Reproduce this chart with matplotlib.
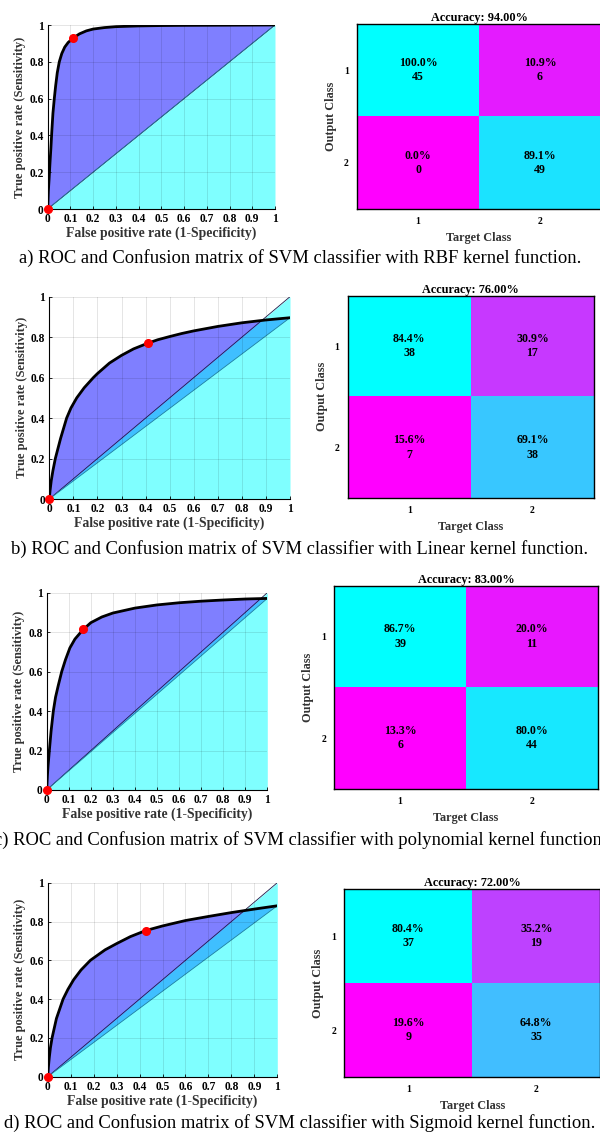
import numpy as np
import matplotlib
matplotlib.use('Agg')
import matplotlib.pyplot as plt

plt.rcParams['font.family'] = ['Liberation Serif', 'DejaVu Serif']
plt.rcParams['font.weight'] = 'bold'

W, H = 600, 1137

# ROC curves (false positive rate, true positive rate)
fpr_rbf = [0, 0.003, 0.006, 0.01, 0.014, 0.018, 0.023, 0.029, 0.035, 0.042, 0.051, 0.062, 0.075,
           0.09, 0.113, 0.14, 0.17, 0.2, 0.25, 0.3, 0.4, 0.5, 0.6, 0.8, 1.0]
tpr_rbf = [0, 0.1, 0.16, 0.25, 0.33, 0.42, 0.52, 0.6, 0.67, 0.74, 0.8, 0.845, 0.88,
           0.905, 0.93, 0.952, 0.968, 0.978, 0.986, 0.991, 0.995, 0.997, 0.998, 0.999, 1.0]

fpr_lin = [0, 0.003, 0.008, 0.015, 0.025, 0.047, 0.072, 0.09, 0.114, 0.145, 0.183, 0.2, 0.25,
           0.3, 0.35, 0.409, 0.45, 0.5, 0.55, 0.6, 0.7, 0.8, 0.9, 1.0]
tpr_lin = [0, 0.04, 0.09, 0.14, 0.2, 0.3, 0.4, 0.45, 0.5, 0.55, 0.6, 0.62, 0.672,
           0.71, 0.742, 0.77, 0.787, 0.803, 0.818, 0.831, 0.853, 0.871, 0.885, 0.896]

fpr_poly = [0, 0.003, 0.006, 0.012, 0.02, 0.03, 0.04, 0.052, 0.068, 0.085, 0.105, 0.128, 0.151,
            0.166, 0.2, 0.25, 0.3, 0.4, 0.5, 0.6, 0.7, 0.8, 0.9, 1.0]
tpr_poly = [0, 0.07, 0.12, 0.2, 0.3, 0.4, 0.47, 0.528, 0.6, 0.66, 0.72, 0.765, 0.795,
            0.814, 0.848, 0.877, 0.897, 0.922, 0.938, 0.949, 0.957, 0.963, 0.968, 0.971]

fpr_sig = [0, 0.003, 0.007, 0.012, 0.019, 0.038, 0.067, 0.088, 0.113, 0.145, 0.186, 0.2, 0.25,
           0.3, 0.36, 0.426, 0.5, 0.6, 0.7, 0.8, 0.9, 1.0]
tpr_sig = [0, 0.05, 0.1, 0.15, 0.2, 0.3, 0.4, 0.45, 0.5, 0.55, 0.6, 0.612, 0.654,
           0.686, 0.722, 0.753, 0.777, 0.805, 0.826, 0.846, 0.864, 0.881]

# operating points (red dots)
op_fpr = [0.113, 0.409, 0.166, 0.426]
op_tpr = [0.93, 0.77, 0.814, 0.753]

chance = [0, 1]

# confusion matrices: counts and column percentages
counts_rbf = [[45, 6], [0, 49]]
pct_rbf = [[100.0, 10.9], [0.0, 89.1]]
counts_lin = [[38, 17], [7, 38]]
pct_lin = [[84.4, 30.9], [15.6, 69.1]]
counts_poly = [[39, 11], [6, 44]]
pct_poly = [[86.7, 20.0], [13.3, 80.0]]
counts_sig = [[37, 19], [9, 35]]
pct_sig = [[80.4, 35.2], [19.6, 64.8]]
accuracy = [94.00, 76.00, 83.00, 72.00]

class_labels = ['1', '2']
x_ticks = [0, 0.1, 0.2, 0.3, 0.4, 0.5, 0.6, 0.7, 0.8, 0.9, 1]
y_ticks = [0, 0.2, 0.4, 0.6, 0.8, 1]

captions = [
    'a) ROC and Confusion matrix of SVM classifier with RBF kernel function.',
    'b) ROC and Confusion matrix of SVM classifier with Linear kernel function.',
    'c) ROC and Confusion matrix of SVM classifier with polynomial kernel function.',
    'd) ROC and Confusion matrix of SVM classifier with Sigmoid kernel function.',
]

# pixel boxes (left, right, top, bottom)
roc_boxes = [(47.7, 275, 25, 209), (49.3, 290, 296.7, 499),
             (46.7, 267.3, 592.7, 790), (47.7, 277.3, 882.7, 1076.7)]
cm_boxes = [(357, 601, 24, 209), (347.7, 594, 295.7, 498),
            (334.3, 597.7, 585.7, 789), (344.3, 600.3, 889, 1077)]
caption_y = [258, 549, 840, 1123]

rocs = [(fpr_rbf, tpr_rbf), (fpr_lin, tpr_lin), (fpr_poly, tpr_poly), (fpr_sig, tpr_sig)]
cms = [(counts_rbf, pct_rbf), (counts_lin, pct_lin), (counts_poly, pct_poly), (counts_sig, pct_sig)]


def box(b):
    l, r, t, bt = b
    return [l / W, 1 - bt / H, (r - l) / W, (bt - t) / H]


fig = plt.figure(figsize=(W / 100, H / 100), dpi=100)

for i in range(4):
    fpr, tpr = rocs[i]
    ax = fig.add_axes(box(roc_boxes[i]))
    # area between curve and chord, then chance area on top
    ax.fill(fpr, tpr, color=(0, 0, 1), alpha=0.5, lw=0)
    ax.fill_between(chance, chance, 0, color=(0, 1, 1), alpha=0.5, lw=0)
    ax.plot(chance, chance, color='#1a1a4a', lw=0.6)
    ax.plot([fpr[0], fpr[-1]], [tpr[0], tpr[-1]], color='#1f7fa0', lw=0.6)
    ax.plot(fpr, tpr, color='black', lw=2, solid_joinstyle='round')
    ax.plot([0, op_fpr[i]], [0, op_tpr[i]], 'o', color='red', ms=5.5, clip_on=False, zorder=5)
    ax.set_xlim(0, 1)
    ax.set_ylim(0, 1)
    ax.set_xticks(x_ticks)
    ax.set_yticks(y_ticks)
    ax.set_xticklabels(['%g' % v for v in x_ticks])
    ax.set_yticklabels(['%g' % v for v in y_ticks])
    ax.grid(True, color='black', alpha=0.12, lw=0.6)
    ax.set_axisbelow(False)
    for s in ['top', 'right']:
        ax.spines[s].set_visible(False)
    ax.tick_params(direction='in', length=2, labelsize=8.3, pad=3, width=0.6)
    ax.set_xlabel('False positive rate (1-Specificity)', fontsize=9.8, fontweight='bold',
                  color='#333333', labelpad=1)
    ax.set_ylabel('True positive rate (Sensitivity)', fontsize=9, fontweight='bold',
                  color='#333333', labelpad=2)

    counts, pct = cms[i]
    cx = fig.add_axes(box(cm_boxes[i]))
    cx.imshow(np.array(pct), cmap='cool_r', aspect='auto', interpolation='nearest')
    for r in range(2):
        for c in range(2):
            cx.text(c, r, '%.1f%%\n%d' % (pct[r][c], counts[r][c]), ha='center', va='center',
                    fontsize=8.6, fontweight='bold', linespacing=1.25)
    cx.set_xticks([0, 1])
    cx.set_yticks([0, 1])
    cx.set_xticklabels(class_labels)
    cx.set_yticklabels(class_labels)
    cx.tick_params(length=0, labelsize=7, pad=6)
    cx.set_xlabel('Target Class', fontsize=8.8, fontweight='bold', color='#333333', labelpad=4)
    cx.set_ylabel('Output Class', fontsize=8.8, fontweight='bold', color='#333333', labelpad=5)
    cx.set_title('Accuracy: %.2f%%' % accuracy[i], fontsize=8.8, fontweight='bold', pad=2)
    for s in cx.spines.values():
        s.set_linewidth(1)

    fig.text(0.5, 1 - caption_y[i] / H, captions[i], ha='center', va='center',
             fontsize=13.4, fontweight='normal')

fig.savefig('out.png', dpi=100)
